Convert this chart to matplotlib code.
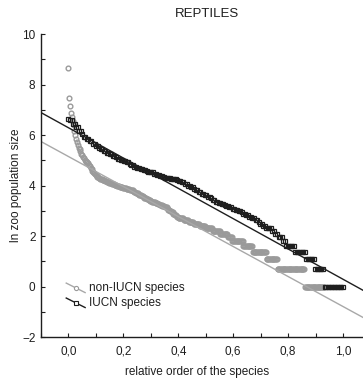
import numpy as np
import matplotlib
matplotlib.use("Agg")
import matplotlib.pyplot as plt
from matplotlib.lines import Line2D
from matplotlib.legend_handler import HandlerBase
from matplotlib.ticker import MultipleLocator

plt.rcParams['font.family'] = ['Liberation Sans', 'DejaVu Sans']
plt.rcParams['font.size'] = 8.5

# non-IUCN reptiles: zoo population size and how many species hold that size (largest first)
non_iucn_sizes = [5650, 1740, 1275, 980, 810, 700, 600, 480, 400, 340, 310, 275,
                  245, 230, 215, 192, 180, 170, 160, 152, 146, 140, 137,
                  134, 125, 117, 110, 104, 98, 93, 89, 86, 83, 80, 78, 76, 74,
                  72, 71, 70, 69, 68, 67, 66, 65, 64, 63, 62, 61, 60, 59, 58, 57, 56, 55,
                  54, 53, 52, 51, 50, 49, 48, 47, 46, 45,
                  44, 43, 42, 41, 40, 39, 38, 37, 36, 35, 34, 33, 32, 31,
                  30, 29, 28, 27, 26, 25, 24, 23,
                  22, 21, 20, 19, 18, 17, 16,
                  15, 14, 13, 12, 11, 10, 9,
                  8, 7, 6, 5, 4, 3, 2, 1]
non_iucn_counts = [1] * 37 + \
                  [1, 1, 1, 1, 1, 1, 1, 1, 1, 1, 1, 1, 2, 1, 1, 1, 2, 1] + \
                  [1, 2, 2, 2, 2, 2, 2, 2, 2, 2] + \
                  [1, 1, 1, 1, 2, 1, 2, 1, 2, 1, 2, 1, 2, 2] + \
                  [2, 2, 2, 3, 2, 3, 3, 3] + \
                  [1, 2, 2, 2, 2, 2, 2] + \
                  [6, 6, 6, 7, 7, 8, 9] + \
                  [9, 5, 13, 11, 16, 13, 32, 23]
non_iucn_span = 0.93  # relative order reached by the last non-IUCN species

# IUCN-listed reptiles: zoo population size and number of species (largest first)
iucn_sizes = [773, 735, 633, 545, 470, 415, 376, 347, 314, 284, 262, 245, 230, 215,
              202, 190, 178, 167, 158, 148, 144, 137, 129, 121, 116, 110, 106, 100,
              98, 95, 92, 87, 83, 79, 76, 74, 73, 72, 70, 68, 66, 62, 57, 54, 51,
              48, 45, 42, 39, 37, 35, 33, 31, 29, 27, 26, 25, 24, 23, 22, 21, 20,
              19, 18, 17, 16, 15, 14, 13, 12, 11, 10, 10, 9, 8,
              7, 6, 5, 4, 3, 2, 1]
iucn_counts = [1, 2, 2, 2, 2, 1, 2, 2, 2, 2, 2, 1, 2, 2, 2, 2, 2, 1, 2, 2,
               2, 2, 1, 2, 2, 2, 2, 2, 1, 2, 2, 2, 2, 2, 1, 2, 2, 2, 2, 1,
               2, 2, 2, 2, 2, 1, 2, 2, 2, 2, 2, 1, 2, 2, 2, 2, 1, 2, 2, 2,
               2, 2, 1, 2, 2, 2, 2, 2, 1, 2, 2, 2, 2, 2, 2,
               3, 2, 6, 7, 6, 6, 13]

# linear fits (intercept, slope) of ln size on relative order
non_iucn_fit = (5.15, -5.94)
iucn_fit = (6.29, -6.00)

x_ticks = [0.0, 0.2, 0.4, 0.6, 0.8, 1.0]
x_tick_labels = ['0,0', '0,2', '0,4', '0,6', '0,8', '1,0']
y_ticks = [-2, 0, 2, 4, 6, 8, 10]

gray_y = np.log(np.repeat(non_iucn_sizes, non_iucn_counts))
gray_x = np.linspace(0, non_iucn_span, len(gray_y))
black_y = np.log(np.repeat(iucn_sizes, iucn_counts))
black_x = np.linspace(0, 1, len(black_y))

GRAY = '#9a9a9a'
DARK = '#1e1e1e'


class SlopedHandler(HandlerBase):
    # legend key: short falling line with the marker in its middle
    def create_artists(self, legend, orig, xdescent, ydescent, width, height,
                       fontsize, trans):
        x0, x1 = -xdescent, -xdescent + width
        y0, y1 = -ydescent + height * 1.0, -ydescent - height * 0.15
        seg = Line2D([x0, x1], [y0, y1], color=orig.get_color(),
                     lw=orig.get_linewidth(), transform=trans)
        dot = Line2D([(x0 + x1) / 2], [(y0 + y1) / 2], ls='',
                     marker=orig.get_marker(), ms=orig.get_markersize(),
                     mfc='white', mec=orig.get_markeredgecolor(),
                     mew=orig.get_markeredgewidth(), transform=trans)
        return [seg, dot]


fig = plt.figure(figsize=(3.63, 3.83), dpi=100)
ax = fig.add_axes([0.113, 0.12, 0.887, 0.791])

ax.plot(gray_x, gray_y, ls='', marker='o', ms=3.4, mfc='none', mec=GRAY, mew=1.0)
ax.plot(black_x, black_y, ls='', marker='s', ms=3.0, mfc='none', mec=DARK, mew=0.9)

xl = np.array([-0.1, 1.1])
ax.plot(xl, non_iucn_fit[0] + non_iucn_fit[1] * xl, color='#a8a8a8', lw=1.0)
ax.plot(xl, iucn_fit[0] + iucn_fit[1] * xl, color=DARK, lw=1.0)

ax.set_xlim(-0.1, 1.073)
ax.set_ylim(-2, 10)
ax.set_xticks(x_ticks)
ax.set_xticklabels(x_tick_labels)
ax.set_yticks(y_ticks)
ax.xaxis.set_minor_locator(MultipleLocator(0.1))
ax.yaxis.set_minor_locator(MultipleLocator(1))
ax.tick_params(which='both', direction='in', length=3, width=0.8, colors=DARK)
ax.tick_params(axis='x', pad=6)
ax.tick_params(axis='y', pad=4)
for s in ['top', 'right']:
    ax.spines[s].set_visible(False)
for s in ['left', 'bottom']:
    ax.spines[s].set_linewidth(1.0)
    ax.spines[s].set_color(DARK)

ax.set_xlabel('relative order of the species', color=DARK)
ax.xaxis.set_label_coords(0.484, -0.095)
ax.set_ylabel('ln zoo population size', color=DARK)
ax.yaxis.set_label_coords(-0.06, 0.5)
fig.text(0.57, 0.963, 'REPTILES', ha='center', va='center', fontsize=9.5, color=DARK)

h_gray = Line2D([], [], color='#a8a8a8', lw=1.0, marker='o', ms=3.0, mec=GRAY, mew=0.8)
h_black = Line2D([], [], color=DARK, lw=1.0, marker='s', ms=2.6, mec=DARK, mew=0.8)
ax.legend([h_gray, h_black], ['non-IUCN species', 'IUCN species'],
          handler_map={Line2D: SlopedHandler()}, loc='upper left',
          bbox_to_anchor=(0.06, 0.20), frameon=False, borderpad=0,
          handlelength=1.6, handletextpad=0.3, labelspacing=0.25,
          labelcolor=DARK)

fig.savefig('out.png', dpi=100)
